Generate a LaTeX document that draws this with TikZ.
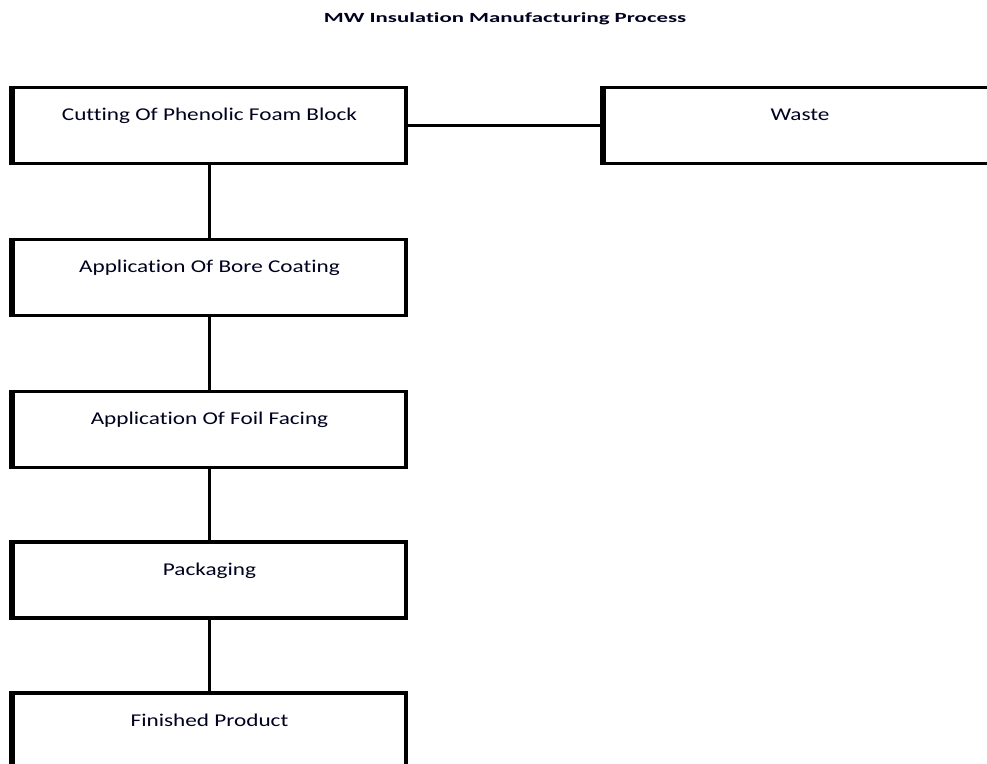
\documentclass[tikz,border=0pt]{standalone}
\usepackage{fontspec}
\usepackage{graphicx}
\setmainfont[Ligatures={NoCommon,NoContextual}]{Carlito}
\begin{document}
\begin{tikzpicture}[x=1pt,y=-1pt,
  procbox/.style={draw=black, line width=3.5pt, fill=white, inner sep=0pt,
    minimum width=393pt, minimum height=76pt, text height=33.5pt, text depth=42.5pt,
    font=\fontsize{18}{18}\selectfont, text=black!88!blue},
  link/.style={draw=black, line width=3.5pt}]
\useasboundingbox (0,0) rectangle (987,763);
\begin{scope}
\clip (0,0) rectangle (987,763);
\node[font=\bfseries\fontsize{14}{14}\selectfont, text=black!88!blue] (title) at (505,19) {\scalebox{1.63}[1]{MW Insulation Manufacturing Process}};
\node[procbox, anchor=north] (cut) at (209.5,85.5) {\scalebox{1.29}[1]{Cutting Of Phenolic Foam Block}};
\node[procbox, anchor=north] (waste) at (800,85.5) {\scalebox{1.29}[1]{Waste}};
\node[procbox, anchor=north] (bore) at (209.5,237.5) {\scalebox{1.29}[1]{Application Of Bore Coating}};
\node[procbox, anchor=north] (foil) at (209.5,389.5) {\scalebox{1.29}[1]{Application Of Foil Facing}};
\node[procbox, anchor=north] (pack) at (209.5,540) {\scalebox{1.29}[1]{Packaging}};
\node[procbox, anchor=north] (fin) at (209.5,691) {\scalebox{1.29}[1]{Finished Product}};
\foreach \n in {cut,waste,bore,foil,pack,fin}
  \draw[line width=6pt] ([xshift=1pt]\n.north west) -- ([xshift=1pt]\n.south west);
\draw[link] (cut.east) -- (waste.west);
\draw[link] (cut.south) -- (bore.north);
\draw[link] (bore.south) -- (foil.north);
\draw[link] (foil.south) -- (pack.north);
\draw[link] (pack.south) -- (fin.north);
\end{scope}
\end{tikzpicture}
\end{document}
